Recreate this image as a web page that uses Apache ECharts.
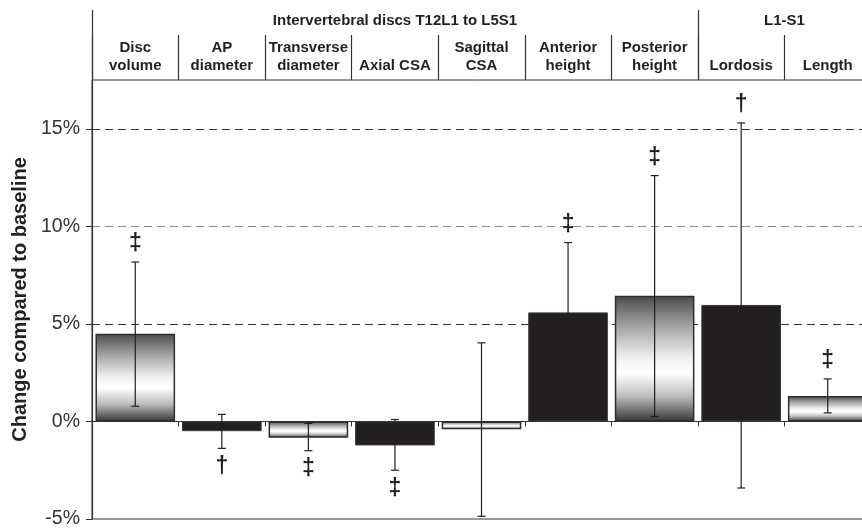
<!DOCTYPE html>
<html><head><meta charset="utf-8">
<script src="https://cdn.jsdelivr.net/npm/echarts@6/dist/echarts.min.js"></script>
<style>html,body{margin:0;padding:0;background:#fff}#c{width:862px;height:528px}</style>
</head><body><div id="c"></div>
<script>
const categories = ['Disc\nvolume', 'AP\ndiameter', 'Transverse\ndiameter', 'Axial CSA', 'Sagittal\nCSA', 'Anterior\nheight', 'Posterior\nheight', 'Lordosis', 'Length'];
const barValues = [4.5, -0.5, -0.83, -1.23, -0.4, 5.59, 6.44, 5.97, 1.3];
const errLow  = [0.78, -1.38, -1.5, -2.5, -4.86, 2.0, 0.26, -3.41, 0.44];
const errHigh = [8.17, 0.36, -0.1, 0.1, 4.03, 9.17, 12.6, 15.3, 2.18];
const markers = ['‡', '†', '‡', '‡', '', '‡', '‡', '†', '‡'];
const groupNames = ['Intervertebral discs T12L1 to L5S1', 'L1-S1'];
const groupSizes = [7, 2];
const yTicks = [-5, 0, 5, 10, 15];

const FONT = 'Liberation Sans, Arial, sans-serif';
const INK = '#231f20';
const gradient = new echarts.graphic.LinearGradient(0, 0, 0, 1, [
  {offset: 0, color: '#4c4c4c'},
  {offset: 0.25, color: '#a6a6a6'},
  {offset: 0.5, color: '#f2f2f2'},
  {offset: 0.62, color: '#ffffff'},
  {offset: 0.8, color: '#bdbdbd'},
  {offset: 1, color: '#363636'}
]);

const groupBounds = [0];
groupSizes.forEach(s => groupBounds.push(groupBounds[groupBounds.length - 1] + s));
const groupCenters = groupSizes.map((s, i) => groupBounds[i] + s / 2);

const chart = echarts.init(document.getElementById('c'));
chart.setOption({
  animation: false,
  textStyle: {fontFamily: FONT},
  grid: {left: 92, width: 779, top: 80, bottom: 9, outerBoundsMode: 'none', containLabel: false,
    show: true, borderColor: '#333', borderWidth: 1, backgroundColor: 'transparent'},
  xAxis: [
    {
      type: 'category', data: categories, position: 'bottom',
      axisLine: {onZero: true, lineStyle: {color: '#333', width: 1.2}},
      axisTick: {show: true, length: 5, interval: 0, lineStyle: {color: '#333'}},
      axisLabel: {show: false}, splitLine: {show: false}
    },
    {
      type: 'category', data: categories, position: 'top', offset: 0,
      axisLine: {show: false},
      axisTick: {show: true, length: 45, interval: 0, lineStyle: {color: '#333', width: 1.2}},
      axisLabel: {interval: 0, margin: 5, fontSize: 15, fontWeight: 'bold', color: INK, lineHeight: 18, verticalAlign: 'bottom'},
      splitLine: {show: false}
    },
    {
      type: 'value', position: 'top', offset: 0, min: 0, max: groupBounds[groupBounds.length - 1],
      axisLine: {show: false},
      axisTick: {show: true, length: 70, customValues: groupBounds, lineStyle: {color: '#333', width: 1.2}},
      axisLabel: {customValues: groupCenters, margin: 51, fontSize: 15, fontWeight: 'bold', color: INK, lineHeight: 17, verticalAlign: 'bottom',
        formatter: v => { const k = groupCenters.indexOf(v); return k >= 0 ? groupNames[k] : ''; }},
      splitLine: {show: false}
    }
  ],
  yAxis: {
    type: 'value', min: -5, max: 17.5, interval: 5,
    name: 'Change compared to baseline', nameLocation: 'middle', nameGap: 62,
    nameTextStyle: {fontSize: 20, fontWeight: 'bold', color: INK},
    axisLine: {show: true, lineStyle: {color: '#333', width: 1.2}},
    axisTick: {show: true, length: 6, customValues: yTicks, lineStyle: {color: '#333'}},
    axisLabel: {fontSize: 19.5, color: '#333', margin: 12, customValues: yTicks, formatter: v => v + '%'},
    splitLine: {show: true, lineStyle: {type: [8, 5], width: 1.2,
      color: ['rgba(0,0,0,0)', 'rgba(0,0,0,0)', '#333', '#8a8a8a', '#333', 'rgba(0,0,0,0)']}}
  },
  series: [
    {
      type: 'bar', xAxisIndex: 0, barCategoryGap: '8%', z: 2,
      data: barValues.map((v, i) => ({
        value: v,
        itemStyle: i % 2 === 0
          ? {color: gradient, borderColor: '#2e2e2e', borderWidth: 1.5}
          : {color: INK, borderColor: '#3a3a3a', borderWidth: 1}
      }))
    },
    {
      type: 'custom', xAxisIndex: 0, z: 4,
      encode: {x: 0, y: [1, 2]},
      data: categories.map((c, i) => [i, errLow[i], errHigh[i]]),
      renderItem: (params, api) => {
        const i = api.value(0);
        const lo = api.coord([i, api.value(1)]);
        const hi = api.coord([i, api.value(2)]);
        const x = hi[0], cap = 4;
        const st = {stroke: INK, lineWidth: 1.2};
        const children = [
          {type: 'line', shape: {x1: x, y1: lo[1], x2: x, y2: hi[1]}, style: st},
          {type: 'line', shape: {x1: x - cap, y1: lo[1], x2: x + cap, y2: lo[1]}, style: st},
          {type: 'line', shape: {x1: x - cap, y1: hi[1], x2: x + cap, y2: hi[1]}, style: st}
        ];
        const m = markers[i];
        if (m) {
          const y = barValues[i] >= 0 ? hi[1] - 18 : lo[1] + 18;
          children.push({type: 'text', style: {text: m, x: x, y: y, align: 'center', verticalAlign: 'middle',
            fontFamily: FONT, fontSize: 23, fontWeight: 'bold', fill: INK}});
        }
        return {type: 'group', children};
      }
    }
  ]
});
</script></body></html>
